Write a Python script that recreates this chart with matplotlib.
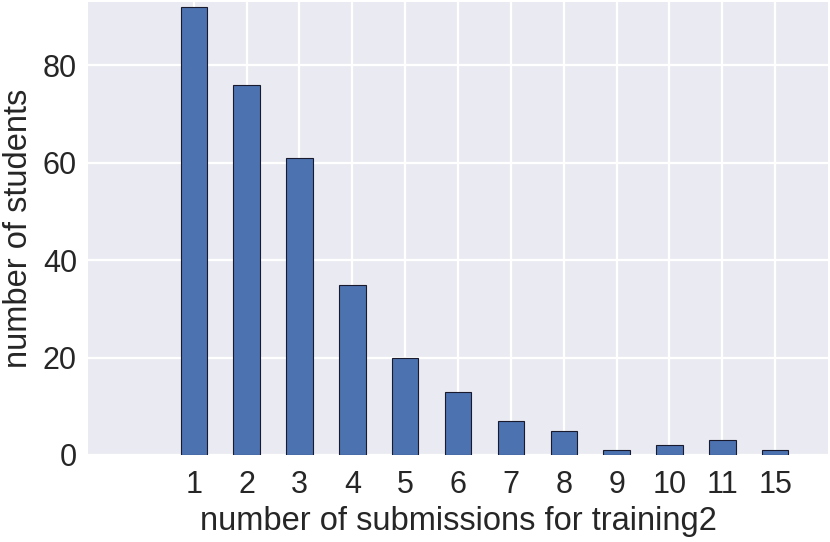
import matplotlib
matplotlib.use("Agg")
import matplotlib.pyplot as plt
import numpy as np

# number of submissions -> number of students
submissions = ["1", "2", "3", "4", "5", "6", "7", "8", "9", "10", "11", "15"]
students = [92, 76, 61, 35, 20, 13, 7, 5, 1, 2, 3, 1]

plt.rcParams['font.family'] = ['Liberation Sans', 'DejaVu Sans']

fig = plt.figure(figsize=(8.3, 5.42), dpi=100)
ax = fig.add_axes([88/830, 1 - 455/542, 740/830, 453/542])
ax.set_facecolor('#EAEAF2')
for s in ax.spines.values():
    s.set_visible(False)

pos = np.arange(1, len(submissions) + 1)
ax.bar(pos, students, width=0.5, color='#4C72B0', edgecolor='#1a1a2e', linewidth=0.8, zorder=2)

ax.set_xticks(pos)
ax.set_xticklabels(submissions)
ax.set_yticks([0, 20, 40, 60, 80])
ax.set_xlim(-1, 13)
ax.set_ylim(0, 93)
ax.grid(True, color='white', linewidth=1.6, zorder=0)
ax.set_axisbelow(True)
ax.tick_params(axis='x', length=0, pad=11, labelsize=22, colors='#262626')
ax.tick_params(axis='y', length=0, pad=8, labelsize=22, colors='#262626')

ax.set_xlabel("number of submissions for training2", fontsize=23.5, color='#262626', labelpad=4)
ax.set_ylabel("number of students", fontsize=23.5, color='#262626', labelpad=6)

fig.savefig("out.png", dpi=100)
